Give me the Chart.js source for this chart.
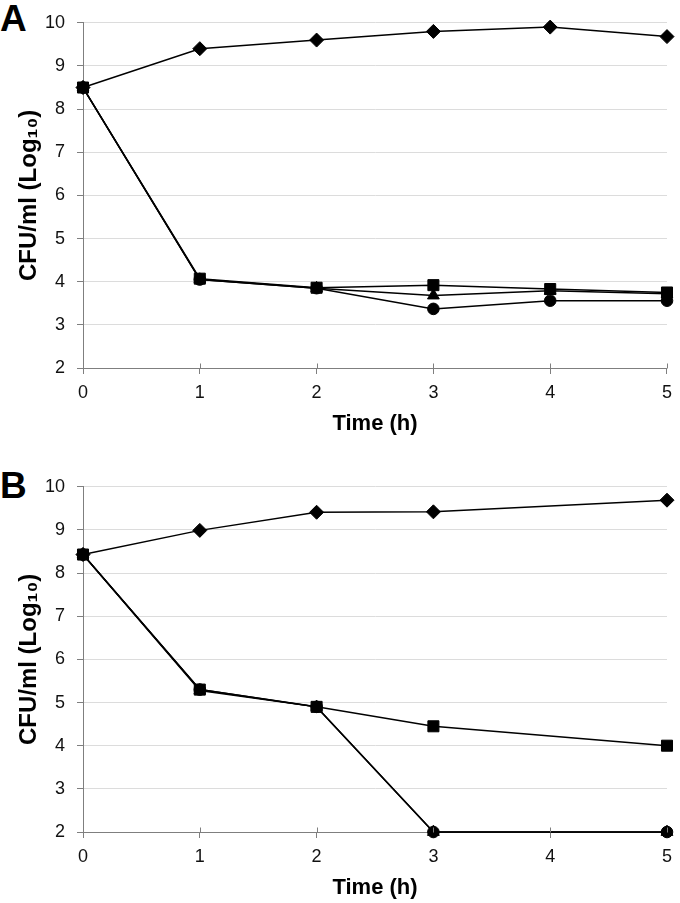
<!DOCTYPE html>
<html>
<head>
<meta charset="utf-8">
<script src="https://cdn.jsdelivr.net/npm/chart.js@4"></script>
<style>
  html, body { margin: 0; padding: 0; background: #fff; overflow: hidden; }
  body { width: 680px; height: 903px; position: relative; font-family: "Liberation Sans", Arial, sans-serif; }
  .panel { position: absolute; left: 0; width: 680px; height: 440px; }
  .letter { position: absolute; left: 0; font-weight: bold; font-size: 37px; line-height: 1; color: #000; }
</style>
</head>
<body>
<div class="letter" style="top:0px;">A</div>
<div class="letter" style="top:467px;">B</div>
<div class="panel" style="top:0px;"><canvas id="chartA" width="680" height="440"></canvas></div>
<div class="panel" style="top:464px;"><canvas id="chartB" width="680" height="440"></canvas></div>
<script>
// ---- Data ----
const xTicks = [0, 1, 2, 3, 4, 5];
const yTicks = [2, 3, 4, 5, 6, 7, 8, 9, 10];
const xTitle = "Time (h)";
const yTitle = "CFU/ml (Log\u2081\u2080)";

// Panel A
const timeA = [0, 1, 2, 3, 4, 5];
const aDiamond  = [8.5, 9.4, 9.6, 9.8, 9.9, 9.68];
const aSquare   = [8.5, 4.07, 3.86, 3.92, 3.83, 3.75];
const aCircle   = [8.5, 4.05, 3.85, 3.37, 3.56, 3.56];
const aTriangle = [8.5, 4.05, 3.85, 3.68, 3.79, 3.72];

// Panel B
const timeB = [0, 1, 2, 3, 5];
const bDiamond  = [8.43, 8.99, 9.41, 9.42, 9.69];
const bSquare   = [8.43, 5.3, 4.9, 4.45, 4.0];
const bCircle   = [8.43, 5.3, 4.9, 2, 2];
const bTriangle = [8.43, 5.28, 4.9, 2, 2];

// ---- Chart construction ----
function pts(xs, ys) { return xs.map((x, i) => ({ x: x, y: ys[i] })); }

function series(xs, ys, style, radius) {
  return {
    data: pts(xs, ys),
    borderColor: '#000',
    backgroundColor: '#000',
    borderWidth: 1.5,
    pointStyle: style,
    pointRadius: radius,
    pointBorderWidth: 1,
    pointBackgroundColor: '#000',
    pointBorderColor: '#000',
    tension: 0,
    clip: false
  };
}

const crossTicks = {
  id: 'crossTicks',
  afterDraw(chart) {
    const xs = chart.scales.x;
    const ctx = chart.ctx;
    ctx.save();
    ctx.strokeStyle = '#7f7f7f';
    ctx.lineWidth = 1;
    const yAxis = Math.round(xs.top) + 0.5;
    xTicks.forEach(v => {
      const px = Math.round(xs.getPixelForValue(v)) + 0.5;
      ctx.beginPath();
      ctx.moveTo(px, yAxis - 5);
      ctx.lineTo(px, yAxis);
      ctx.stroke();
    });
    ctx.restore();
  }
};

function makeChart(id, datasets) {
  return new Chart(document.getElementById(id), {
    type: 'line',
    data: { datasets: datasets },
    plugins: [crossTicks],
    options: {
      responsive: false,
      animation: false,
      events: [],
      layout: { padding: { top: 20, right: 8, bottom: 0, left: 0 }, autoPadding: false },
      plugins: { legend: { display: false }, tooltip: { enabled: false } },
      scales: {
        x: {
          type: 'linear',
          min: 0, max: 5,
          afterBuildTicks: (axis) => { axis.ticks = xTicks.map(v => ({ value: v })); },
          afterFit: (axis) => { axis.height = 72; },
          grid: { display: true, drawOnChartArea: false, drawTicks: true, tickLength: 6, color: '#7f7f7f', tickColor: '#7f7f7f' },
          border: { display: true, color: '#7f7f7f', width: 1 },
          ticks: { padding: 8, color: '#111', font: { family: 'Liberation Sans', size: 18 }, maxRotation: 0 },
          title: { display: true, text: xTitle, color: '#000', font: { family: 'Liberation Sans', size: 22, weight: 'bold' }, padding: { top: 0, bottom: 3 } }
        },
        y: {
          type: 'linear',
          min: 2, max: 10,
          afterBuildTicks: (axis) => { axis.ticks = yTicks.map(v => ({ value: v })); },
          afterFit: (axis) => { axis.width = 83; },
          grid: { display: true, drawOnChartArea: true, drawTicks: true, tickLength: 6, color: '#dcdcdc', tickColor: '#7f7f7f' },
          border: { display: true, color: '#7f7f7f', width: 1 },
          ticks: { padding: 12, color: '#111', font: { family: 'Liberation Sans', size: 18 } },
          title: { display: true, text: yTitle, color: '#000', font: { family: 'Liberation Sans', size: 24, weight: 'bold' }, padding: { top: 15, bottom: 0 } }
        }
      }
    }
  });
}

makeChart('chartA', [
  series(timeA, aDiamond, 'rectRot', 7),
  series(timeA, aSquare, 'rect', 7.8),
  series(timeA, aCircle, 'circle', 5.8),
  series(timeA, aTriangle, 'triangle', 6.8)
]);

makeChart('chartB', [
  series(timeB, bDiamond, 'rectRot', 7),
  series(timeB, bSquare, 'rect', 7.8),
  series(timeB, bCircle, 'circle', 5.8),
  series(timeB, bTriangle, 'triangle', 6.8)
]);
</script>
</body>
</html>
